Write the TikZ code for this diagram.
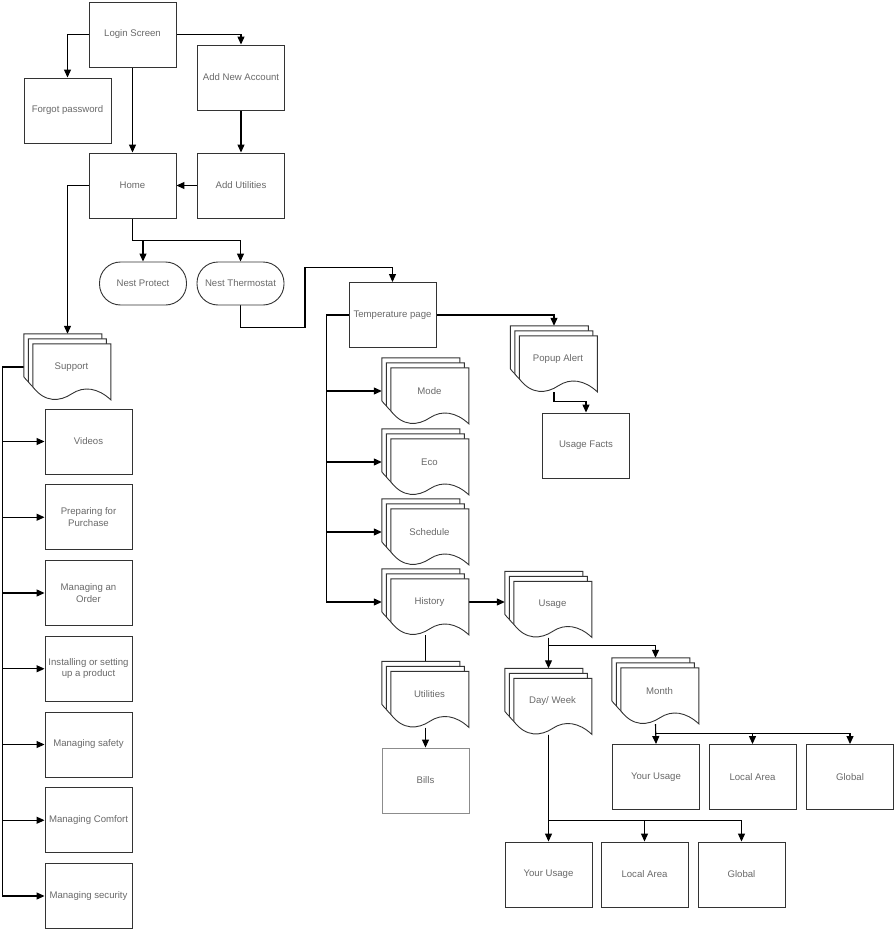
\documentclass[tikz,border=0pt]{standalone}
\usepackage{fontspec}
\setmainfont{Liberation Sans}
\usetikzlibrary{arrows.meta,positioning}
\definecolor{nline}{RGB}{51,51,51}
\definecolor{ntext}{RGB}{105,105,105}
\definecolor{nlight}{RGB}{140,140,140}
\pgfdeclarelayer{bg}
\pgfsetlayers{bg,main}

% stack of three documents, node is the bounding box
\newcommand{\docstack}[3]{%
  \node[stack] (#1) at (#2) {};
  \begin{scope}[shift={(#1.north west)}]
    \foreach \dx/\dy in {0/0,4.5/5,9/10}
      \draw[doc] (\dx,\dy) -- ++(78,0) -- ++(0,56)
        .. controls ++(-13,-12) and ++(12,-8) .. ++(-39,-6)
        .. controls ++(-12,8) and ++(12,16) .. ++(-39,-7) -- cycle;
  \end{scope}
  \node[txt] at ([xshift=4pt]#1.center) {#3};
}

\begin{document}
\begin{tikzpicture}[x=1pt, y=-1pt,
    txt/.style={font=\fontsize{9.6}{11.5}\selectfont, text=ntext, align=center},
    box/.style={txt, draw=nline, line width=0.9pt, fill=white,
      minimum width=87pt, minimum height=65pt, inner sep=1pt},
    stadium/.style={box, minimum height=43pt, minimum width=87pt, rounded corners=21pt},
    stack/.style={minimum width=87pt, minimum height=66pt, inner sep=0pt},
    doc/.style={draw=nline, line width=0.9pt, fill=white},
    arrow/.style={draw=black, line width=1.1pt, -{Triangle[length=8pt,width=7pt]}},
    link/.style={draw=black, line width=1.1pt}]
  \useasboundingbox (0,0) rectangle (895,931);

  % login part
  \node[box] (login) at (132.5,34.5) {Login Screen};
  \node[box] (forgot) at (67.5,110.5) {Forgot password};
  \node[box] (newacc) at (241,77.5) {Add New Account};
  \node[box] (home) at (132.5,185.5) {Home};
  \node[box] (addutil) at (241,185.5) {Add Utilities};
  \node[stadium] (protect) at (143,283.5) {Nest Protect};
  \node[stadium] (thermo) at (240.5,283.5) {Nest Thermostat};

  % support
  \docstack{support}{67.5,367}{Support}
  \foreach \txt [count=\k from 0] in {Videos, {Preparing for\\Purchase},
      {Managing an\\Order}, {Installing or setting\\up a product},
      Managing safety, Managing Comfort, Managing security}
  {
    \pgfmathsetmacro\yy{441.5+75.75*\k}
    \node[box] (sup\k) at (88.5,\yy) {\txt};
  }

  % thermostat
  \node[box] (temp) at (392.5,315) {Temperature page};
  \docstack{mode}{425.5,391}{Mode}
  \docstack{eco}{425.5,462}{Eco}
  \docstack{sched}{425.5,532}{Schedule}
  \docstack{history}{425.5,602}{History}
  \docstack{popup}{554,359}{Popup Alert}
  \node[box] (facts) at (586,445.5) {Usage Facts};
  \docstack{usage}{548.5,604.5}{Usage}
  \docstack{utils}{425.5,694.5}{Utilities}
  \node[box, draw=nlight] (bills) at (425.5,780.5) {Bills};
  \docstack{daywk}{548.5,701.5}{Day/ Week}
  \docstack{month}{655.5,691}{Month}
  \node[box] (myour) at (656,777) {Your Usage};
  \node[box] (mlocal) at (752.5,777) {Local Area};
  \node[box] (mglobal) at (850,777) {Global};
  \node[box] (dyour) at (548.5,874.5) {Your Usage};
  \node[box] (dlocal) at (644.5,874.5) {Local Area};
  \node[box] (dglobal) at (741.5,874.5) {Global};

  % connectors
  \begin{pgfonlayer}{bg}
    \draw[arrow] (login.west) -| (forgot.north);
    \draw[arrow] (login.east) -| (newacc.north);
    \draw[arrow] (login.south) -- (home.north);
    \draw[arrow] (newacc.south) -- (addutil.north);
    \draw[arrow] (addutil.west) -- (home.east);
    \draw[arrow] (home.west) -| (support.north);
    \draw[arrow] (home.south) -- ++(0,22) -| (protect.north);
    \draw[arrow] (home.south) -- ++(0,22) -| (thermo.north);
    \draw[arrow] (thermo.south) -- ++(0,22) -- ++(64.5,0)
      |- ([yshift=15pt]temp.north) -- (temp.north);
    \foreach \k in {0,...,6}
      \draw[arrow] (support.west) -- ++(-21,0) |- (sup\k.west);
    \foreach \n in {mode,eco,sched,history}
      \draw[arrow] (temp.west) -- ++(-22,0) |- (\n.west);
    \draw[arrow] (temp.east) -| (popup.north);
    \draw[arrow] (popup.south) -- ++(0,9) -| (facts.north);
    \draw[arrow] (history.east) -- (history.east -| usage.west);
    \draw[link] (history.south) -- (utils.north);
    \draw[arrow] (utils.south) -- (bills.north);
    \draw[arrow] (usage.south) -- (daywk.north);
    \draw[arrow] (usage.south) |- ([yshift=12pt]month.north) -- (month.north);
    \draw[arrow] (month.south) -- (myour.north);
    \foreach \n in {mlocal,mglobal}
      \draw[arrow] (month.south) |- ([yshift=11pt]\n.north) -- (\n.north);
    \draw[arrow] (daywk.south) -- (dyour.north);
    \foreach \n in {dlocal,dglobal}
      \draw[arrow] (daywk.south) |- ([yshift=21pt]\n.north) -- (\n.north);
  \end{pgfonlayer}
\end{tikzpicture}
\end{document}
